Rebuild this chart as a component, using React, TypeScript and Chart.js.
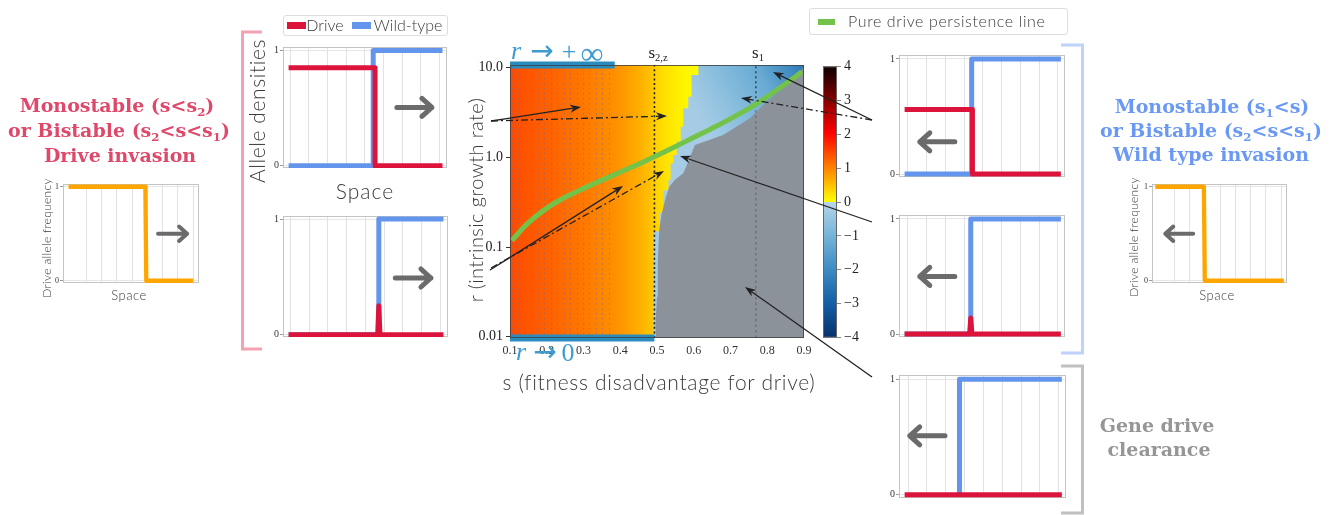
import React, { useEffect, useRef } from 'react';
import { Chart, registerables } from 'chart.js';
Chart.register(...registerables);

// ================= DATA: central map =================
const S_RANGE = [0.1, 0.9];
const R_RANGE = [0.0097, 10.7];
const sTickValues = [0.1, 0.2, 0.3, 0.4, 0.5, 0.6, 0.7, 0.8, 0.9];
const sTickLabels = ['0.1', '0.2', '0.3', '0.4', '0.5', '0.6', '0.7', '0.8', '0.9'];
const rTickValues = [0.01, 0.1, 1, 10];
const rTickLabels = ['0.01', '0.1', '1.0', '10.0'];

// positive wave speed (drive invasion), read per s column
const posSpeedS = [0.10, 0.15, 0.20, 0.25, 0.30, 0.35, 0.40, 0.45, 0.48, 0.50, 0.52, 0.55, 0.58, 0.61];
const posSpeedV = [1.45, 1.35, 1.27, 1.18, 1.08, 0.98, 0.85, 0.65, 0.50, 0.35, 0.25, 0.15, 0.07, 0.02];

// upper edge of the negative-speed (wild-type invasion) region, stepped
const negTopS = [0.490, 0.508, 0.517, 0.531, 0.537, 0.5445, 0.5535, 0.5645, 0.5716, 0.585, 0.594, 0.6125, 0.9];
const negTopR = [0.15, 0.24, 0.43, 0.56, 0.86, 1.06, 1.5, 2.2, 3.52, 4.75, 8.3, 10.7, 10.7];
// negative speed read along the light -> dark blue direction
const negGradS = [0.62, 0.9];
const negGradR = [2.5, 10.7];
const negGradPos = [0, 0.25, 0.64, 1];
const negGradV = [-0.25, -0.6, -1.25, -2.4];

// drive clearance (extinction) region boundary
const extinctS = [0.4946, 0.4965, 0.500, 0.502, 0.506, 0.513, 0.5245, 0.5336, 0.548, 0.5716, 0.59, 0.603, 0.64, 0.68, 0.753, 0.798, 0.844, 0.889, 0.9];
const extinctR = [0.0097, 0.0154, 0.028, 0.066, 0.155, 0.238, 0.365, 0.47, 0.56, 0.665, 1.0, 1.37, 1.55, 1.78, 2.73, 4.17, 5.89, 8.66, 10.7];

// pure drive persistence line
const persistS = [0.1046, 0.1454, 0.1907, 0.236, 0.2814, 0.3268, 0.3721, 0.4175, 0.4628, 0.508, 0.5535, 0.599, 0.644, 0.6895, 0.735, 0.780, 0.8256, 0.871, 0.894];
const persistR = [0.118, 0.179, 0.255, 0.335, 0.415, 0.505, 0.61, 0.736, 0.889, 1.09, 1.34, 1.66, 2.05, 2.55, 3.23, 4.18, 5.63, 7.62, 9.02];

const s2z = 0.493;
const s1 = 0.769;
const s1SplitR = 4.0;
const limitInfS = [0.1, 0.385];
const limitZeroS = [0.1, 0.493];
const hatchS = [0.1, 0.385];

// ================= DATA: colorbar =================
const cbarNegV = [-4, -3, -2, -1, 0];
const cbarNegC = ['#08306b', '#125ea6', '#3b8bc3', '#75b4d8', '#b6d4e9'];
const cbarPosV = [0, 1, 2.04, 4];
const cbarPosC = ['#ffff00', '#ff8200', '#ff0000', '#0b0000'];
const cbarTicks = [-4, -3, -2, -1, 0, 1, 2, 3, 4];

// ================= DATA: small profile panels =================
const gridA = [1, 2, 3, 4, 5, 6, 7, 8];
const gridB = [0, 1, 2, 3, 4, 5, 6, 7, 8];

const freqInvX = [-0.16, 4.87, 4.93, 8.0];
const freqInvY = [1, 1, 0, 0];
const freqWtX = [-0.24, 2.94, 3.0, 8.18];
const freqWtY = [1, 1, 0, 0];

const bDriveX = [-0.09, 4.55, 4.55, 8.17];
const bDriveY = [0.85, 0.85, 0, 0];
const bWildX = [-0.09, 4.45, 4.45, 8.17];
const bWildY = [0, 0, 1, 1];

const cDriveX = [-0.09, 4.66, 4.72, 4.78, 8.17];
const cDriveY = [0, 0, 0.25, 0, 0];
const cWildX = [-0.09, 4.72, 4.72, 8.17];
const cWildY = [0, 0, 1, 1];

const dDriveX = [-0.18, 3.44, 3.44, 8.16];
const dDriveY = [0.56, 0.56, 0, 0];
const dWildX = [-0.18, 3.40, 3.40, 8.16];
const dWildY = [0, 0, 1, 1];

const eDriveX = [-0.18, 3.29, 3.35, 3.41, 8.16];
const eDriveY = [0, 0, 0.14, 0, 0];
const eWildX = [-0.18, 3.35, 3.35, 8.16];
const eWildY = [0, 0, 1, 1];

const fDriveX = [-0.18, 8.16];
const fDriveY = [0, 0];
const fWildX = [2.73, 2.73, 8.16];
const fWildY = [0, 1, 1];

// ================= styles =================
const SANS = 'Lato, "Open Sans", "DejaVu Sans", sans-serif';
const SERIF = '"Liberation Serif", "DejaVu Serif", serif';
const BSERIF = '"DejaVu Serif", serif';
const DRIVE = '#dc143c';
const WILD = '#6495ed';
const ORANGE = '#ffa500';
const GREEN = 'rgb(115,195,75)';
const LIMIT = 'rgb(42,140,190)';
const MATHBLUE = 'rgb(62,155,208)';

function hexRgb(h: string) {
  const n = parseInt(h.slice(1), 16);
  return [(n >> 16) & 255, (n >> 8) & 255, n & 255];
}
function interp(vs: number[], cs: string[], v: number) {
  if (v <= vs[0]) return cs[0];
  for (let i = 0; i < vs.length - 1; i++) {
    if (v <= vs[i + 1]) {
      const t = (v - vs[i]) / (vs[i + 1] - vs[i] || 1);
      const a = hexRgb(cs[i]), b = hexRgb(cs[i + 1]);
      return `rgb(${a.map((c, k) => Math.round(c + (b[k] - c) * t)).join(',')})`;
    }
  }
  return cs[cs.length - 1];
}
function cmap(v: number) {
  return v >= 0 ? interp(cbarPosV, cbarPosC, v) : interp(cbarNegV, cbarNegC, v);
}
const pts = (xs: number[], ys: number[]) => xs.map((x, i) => ({ x, y: ys[i] }));

function ChartBox({ left, top, width, height, make }: any) {
  const ref = useRef<HTMLCanvasElement>(null);
  useEffect(() => {
    const chart = new Chart(ref.current as HTMLCanvasElement, make());
    return () => chart.destroy();
  }, []);
  return (
    <canvas ref={ref} width={width} height={height}
      style={{ position: 'absolute', left, top, width, height }} />
  );
}

// ---------- central map ----------
const MAP = { l: 510, t: 65, w: 294, h: 273 };
const MAP_CANVAS = { l: 440, t: 35, w: 420, h: 330 };

function makeMap() {
  const yw = MAP.l - MAP_CANVAS.l;
  const padTop = MAP.t - MAP_CANVAS.t;
  const padRight = MAP_CANVAS.w - yw - MAP.w;
  const xh = MAP_CANVAS.h - padTop - MAP.h;
  const bgPlugin = {
    id: 'mapBg',
    beforeDatasetsDraw(chart: any) {
      const { ctx, chartArea: a, scales } = chart;
      const x = scales.x;
      ctx.save();
      const g = ctx.createLinearGradient(x.getPixelForValue(S_RANGE[0]), 0, x.getPixelForValue(S_RANGE[1]), 0);
      posSpeedS.forEach((s, i) => g.addColorStop((s - S_RANGE[0]) / (S_RANGE[1] - S_RANGE[0]), cmap(posSpeedV[i])));
      ctx.fillStyle = g;
      ctx.fillRect(a.left, a.top, a.width, a.height);
      ctx.fillStyle = 'rgba(105,105,140,0.55)';
      const x0 = x.getPixelForValue(hatchS[0]);
      const x1 = x.getPixelForValue(hatchS[1]);
      for (let px = x0 + 2; px <= x1; px += 6.45) {
        for (let py = a.top + 3; py < a.bottom - 1; py += 5) ctx.fillRect(Math.round(px), py, 1, 1.4);
      }
      ctx.restore();
    },
    afterDatasetsDraw(chart: any) {
      const { ctx, chartArea: a } = chart;
      ctx.save();
      ctx.strokeStyle = 'rgba(60,60,60,0.8)';
      ctx.lineWidth = 1;
      ctx.strokeRect(a.left + 0.5, a.top + 0.5, a.width - 1, a.height - 1);
      ctx.restore();
    },
  };
  const negFill = (c: any) => {
    const ch = c.chart;
    if (!ch.chartArea) return cmap(-0.3);
    const { x, y } = ch.scales;
    const g = ch.ctx.createLinearGradient(
      x.getPixelForValue(negGradS[0]), y.getPixelForValue(negGradR[0]),
      x.getPixelForValue(negGradS[1]), y.getPixelForValue(negGradR[1]));
    negGradPos.forEach((p, i) => g.addColorStop(p, cmap(negGradV[i])));
    return g;
  };
  return {
    type: 'line',
    data: {
      datasets: [
        { data: pts(limitInfS, [R_RANGE[1], R_RANGE[1]]), borderColor: LIMIT, borderWidth: 7, borderCapStyle: 'butt', pointRadius: 0, clip: 10, order: 0 },
        { data: pts(limitZeroS, [R_RANGE[0], R_RANGE[0]]), borderColor: LIMIT, borderWidth: 7, borderCapStyle: 'butt', pointRadius: 0, clip: 10, order: 0 },
        { data: pts(persistS, persistR), borderColor: GREEN, borderWidth: 5, tension: 0.4, borderCapStyle: 'butt', pointRadius: 0, order: 1 },
        { data: pts([s2z, s2z], [R_RANGE[0], R_RANGE[1]]), borderColor: '#1e1e1e', borderWidth: 1.6, borderDash: [2, 2.6], pointRadius: 0, order: 2 },
        { data: pts([s1, s1], [s1SplitR, R_RANGE[1]]), borderColor: 'rgba(40,40,40,0.85)', borderWidth: 1.4, borderDash: [2, 3], pointRadius: 0, order: 2 },
        { data: pts([s1, s1], [R_RANGE[0], s1SplitR]), borderColor: 'rgba(95,95,95,0.75)', borderWidth: 1.2, borderDash: [2.5, 3], pointRadius: 0, order: 2 },
        { data: pts(extinctS, extinctR), borderWidth: 0, borderColor: 'rgba(0,0,0,0)', backgroundColor: 'rgb(139,146,153)', fill: 'start', pointRadius: 0, order: 3 },
        { data: pts(negTopS, negTopR), stepped: true, borderWidth: 0, borderColor: 'rgba(0,0,0,0)', backgroundColor: negFill, fill: 'start', pointRadius: 0, order: 4 },
      ],
    },
    options: {
      responsive: false, maintainAspectRatio: false, animation: false, events: [],
      layout: { padding: { top: padTop, right: padRight, bottom: 0, left: 0 } },
      plugins: { legend: { display: false }, tooltip: { enabled: false } },
      scales: {
        x: {
          type: 'linear', min: S_RANGE[0], max: S_RANGE[1],
          afterBuildTicks: (s: any) => { s.ticks = sTickValues.map((v) => ({ value: v })); },
          afterFit: (s: any) => { s.height = xh; },
          ticks: { autoSkip: false, maxRotation: 0, padding: 3, color: '#333', font: { family: SERIF, size: 12 }, callback: (_v: any, i: number) => sTickLabels[i] },
          grid: { drawOnChartArea: false, drawTicks: true, tickLength: 3, tickColor: 'rgba(0,0,0,0)' },
          border: { display: false },
        },
        y: {
          type: 'logarithmic', min: R_RANGE[0], max: R_RANGE[1],
          afterBuildTicks: (s: any) => { s.ticks = rTickValues.map((v) => ({ value: v })); },
          afterFit: (s: any) => { s.width = yw; },
          ticks: { padding: 3, color: '#222', font: { family: SERIF, size: 14 }, callback: (_v: any, i: number) => rTickLabels[i] },
          grid: { drawOnChartArea: false, drawTicks: true, tickLength: 4, tickColor: '#333' },
          border: { display: false },
        },
      },
    },
    plugins: [bgPlugin],
  };
}

// ---------- colorbar ----------
const CBAR = { l: 823, t: 65, w: 14, h: 274 };
function makeCbar() {
  const frame = {
    id: 'cbFrame',
    afterDatasetsDraw(chart: any) {
      const { ctx, chartArea: a } = chart;
      ctx.save();
      ctx.strokeStyle = '#666';
      ctx.lineWidth = 1;
      ctx.strokeRect(a.left + 0.5, a.top + 0.5, a.width - 1, a.height - 1);
      ctx.restore();
    },
  };
  const grad = (c: any) => {
    const ch = c.chart;
    if (!ch.chartArea) return '#888';
    const y = ch.scales.y;
    const g = ch.ctx.createLinearGradient(0, y.getPixelForValue(-4), 0, y.getPixelForValue(4));
    cbarNegV.forEach((v, i) => g.addColorStop(Math.min((v + 4) / 8, 0.4999), cbarNegC[i]));
    cbarPosV.forEach((v, i) => g.addColorStop(Math.max((v + 4) / 8, 0.5001), cbarPosC[i]));
    return g;
  };
  return {
    type: 'bar',
    data: { labels: [''], datasets: [{ data: [[-4, 4]], backgroundColor: grad, borderWidth: 0, barPercentage: 1, categoryPercentage: 1 }] },
    options: {
      responsive: false, maintainAspectRatio: false, animation: false, events: [],
      layout: { padding: { top: 10, bottom: 10, left: 0, right: 0 } },
      plugins: { legend: { display: false }, tooltip: { enabled: false } },
      scales: {
        x: { display: false },
        y: {
          position: 'right', min: -4, max: 4,
          afterBuildTicks: (s: any) => { s.ticks = cbarTicks.map((v) => ({ value: v })); },
          afterFit: (s: any) => { s.width = 40; },
          ticks: { padding: 3, color: '#222', font: { family: SERIF, size: 14 }, callback: (v: any) => (v < 0 ? '\u2212' + -v : String(v)) },
          grid: { drawOnChartArea: false, tickLength: 4, tickColor: '#888' },
          border: { display: false },
        },
      },
    },
    plugins: [frame],
  };
}

// ---------- small panels ----------
const YW = 22, PT = 8, PR = 6, PB = 6;
function makePanel(p: any) {
  const deco = {
    id: 'panelDeco',
    beforeDatasetsDraw(chart: any) {
      const { ctx, chartArea: a } = chart;
      ctx.save();
      ctx.strokeStyle = '#c4c4c4';
      ctx.lineWidth = 1;
      ctx.strokeRect(a.left + 0.5, a.top + 0.5, a.width - 1, a.height - 1);
      ctx.restore();
    },
    afterDatasetsDraw(chart: any) {
      const { ctx, scales } = chart;
      const ar = p.arrow;
      const x1 = scales.x.getPixelForValue(ar.tail);
      const x2 = scales.x.getPixelForValue(ar.head);
      const y = scales.y.getPixelForValue(ar.y);
      const d = Math.sign(x2 - x1);
      ctx.save();
      ctx.strokeStyle = '#6b6b6b';
      ctx.lineWidth = ar.lw;
      ctx.lineCap = 'round';
      ctx.lineJoin = 'round';
      ctx.beginPath();
      ctx.moveTo(x1, y);
      ctx.lineTo(x2, y);
      ctx.moveTo(x2 - d * ar.hs, y - ar.hs * 0.9);
      ctx.lineTo(x2, y);
      ctx.lineTo(x2 - d * ar.hs, y + ar.hs * 0.9);
      ctx.stroke();
      ctx.restore();
    },
  };
  return {
    type: 'line',
    data: {
      datasets: p.lines.map((l: any, i: number) => ({
        data: pts(l.xs, l.ys), borderColor: l.color, borderWidth: l.w, pointRadius: 0, tension: 0,
        borderJoinStyle: 'round', borderCapStyle: 'butt', fill: false, order: i,
      })),
    },
    options: {
      responsive: false, maintainAspectRatio: false, animation: false, events: [],
      layout: { padding: { top: PT, right: PR, bottom: PB, left: 0 } },
      plugins: { legend: { display: false }, tooltip: { enabled: false } },
      scales: {
        x: {
          type: 'linear', min: p.xr[0], max: p.xr[1],
          afterBuildTicks: (s: any) => { s.ticks = p.grid.map((v: number) => ({ value: v })); },
          afterFit: (s: any) => { s.height = 0; },
          ticks: { display: false },
          grid: { color: '#e2e2e2', drawTicks: false },
          border: { display: false },
        },
        y: {
          type: 'linear', min: p.yr[0], max: p.yr[1],
          afterBuildTicks: (s: any) => { s.ticks = [0, 1].map((v) => ({ value: v })); },
          afterFit: (s: any) => { s.width = YW; },
          ticks: { padding: 1, color: '#333', font: { family: SERIF, size: p.fs } },
          grid: { color: '#e6e6e6', tickColor: '#9a9a9a', tickLength: 3 },
          border: { display: false },
        },
      },
    },
    plugins: [deco],
  };
}

const panels: any[] = [
  { box: { l: 63, t: 184, w: 136, h: 99 }, xr: [-0.52, 8.38], yr: [-0.024, 1.029], grid: gridA, fs: 8,
    lines: [{ xs: freqInvX, ys: freqInvY, color: ORANGE, w: 4.3 }],
    arrow: { tail: 5.7, head: 7.6, y: 0.5, lw: 4, hs: 8 } },
  { box: { l: 1152, t: 184, w: 135, h: 99 }, xr: [-0.46, 8.39], yr: [-0.024, 1.029], grid: gridA, fs: 8,
    lines: [{ xs: freqWtX, ys: freqWtY, color: ORANGE, w: 4.3 }],
    arrow: { tail: 2.24, head: 0.41, y: 0.5, lw: 4, hs: 8 } },
  { box: { l: 283, t: 47, w: 164, h: 122 }, xr: [-0.39, 8.41], yr: [-0.02, 1.03], grid: gridB, fs: 10,
    lines: [{ xs: bDriveX, ys: bDriveY, color: DRIVE, w: 5 }, { xs: bWildX, ys: bWildY, color: WILD, w: 5 }],
    arrow: { tail: 5.72, head: 7.6, y: 0.506, lw: 5, hs: 10 } },
  { box: { l: 283, t: 216, w: 165, h: 122 }, xr: [-0.39, 8.41], yr: [-0.02, 1.026], grid: gridB, fs: 10,
    lines: [{ xs: cDriveX, ys: cDriveY, color: DRIVE, w: 5 }, { xs: cWildX, ys: cWildY, color: WILD, w: 5 }],
    arrow: { tail: 5.6, head: 7.5, y: 0.49, lw: 5, hs: 10 } },
  { box: { l: 899, t: 55, w: 166, h: 123 }, xr: [-0.48, 8.38], yr: [-0.026, 1.034], grid: gridB, fs: 10,
    lines: [{ xs: dDriveX, ys: dDriveY, color: DRIVE, w: 5 }, { xs: dWildX, ys: dWildY, color: WILD, w: 5 }],
    arrow: { tail: 2.5, head: 0.63, y: 0.28, lw: 5, hs: 10 } },
  { box: { l: 899, t: 215, w: 166, h: 123 }, xr: [-0.48, 8.38], yr: [-0.026, 1.034], grid: gridB, fs: 10,
    lines: [{ xs: eDriveX, ys: eDriveY, color: DRIVE, w: 5 }, { xs: eWildX, ys: eWildY, color: WILD, w: 5 }],
    arrow: { tail: 2.5, head: 0.63, y: 0.5, lw: 5, hs: 10 } },
  { box: { l: 899, t: 375, w: 167, h: 124 }, xr: [-0.48, 8.38], yr: [-0.028, 1.037], grid: gridB, fs: 10,
    lines: [{ xs: fDriveX, ys: fDriveY, color: DRIVE, w: 5 }, { xs: fWildX, ys: fWildY, color: WILD, w: 5 }],
    arrow: { tail: 1.96, head: 0.09, y: 0.51, lw: 5, hs: 10 } },
];

// ---------- overlay arrows (annotations) ----------
const pointers = [
  { x1: 491, y1: 121, x2: 581, y2: 107, dash: false },
  { x1: 491, y1: 121, x2: 667, y2: 116, dash: true },
  { x1: 490, y1: 270, x2: 623, y2: 186, dash: false },
  { x1: 491, y1: 268, x2: 664, y2: 171, dash: true },
  { x1: 872, y1: 120, x2: 773, y2: 72, dash: false },
  { x1: 872, y1: 120, x2: 741, y2: 98, dash: true },
  { x1: 872, y1: 222, x2: 680, y2: 156, dash: false },
  { x1: 872, y1: 377, x2: 745, y2: 287, dash: false },
];

function Pointer({ x1, y1, x2, y2, dash }: any) {
  const dx = x2 - x1, dy = y2 - y1;
  const L = Math.hypot(dx, dy);
  const ux = dx / L, uy = dy / L;
  const len = 11, hw = 4;
  const bx = x2 - ux * len, by = y2 - uy * len;
  const nx = x2 - ux * len * 0.7, ny = y2 - uy * len * 0.7;
  const p = `${x2},${y2} ${bx - uy * hw},${by + ux * hw} ${nx},${ny} ${bx + uy * hw},${by - ux * hw}`;
  return (
    <g>
      <line x1={x1} y1={y1} x2={nx} y2={ny} stroke="#222" strokeWidth={1.3} strokeDasharray={dash ? '7 3 2 3' : undefined} />
      <polygon points={p} fill="#222" />
    </g>
  );
}

function Txt({ x, y, rot, left, style, children }: any) {
  return (
    <div style={{
      position: 'absolute', left: x, top: y, whiteSpace: 'nowrap', lineHeight: 1,
      transform: `translate(${left ? '0' : '-50%'},-50%)${rot ? ' rotate(-90deg)' : ''}`, ...style,
    }}>{children}</div>
  );
}

const Sub = ({ children }: any) => (
  <span style={{ fontSize: '0.62em', position: 'relative', top: '0.3em' }}>{children}</span>
);

const headLeft = { fontFamily: BSERIF, fontWeight: 'bold', fontSize: 19, color: 'rgb(224,72,106)' };
const headRight = { ...headLeft, color: 'rgb(106,152,245)' };
const headGray = { ...headLeft, color: 'rgb(150,150,150)' };
const lab = { fontFamily: SANS, fontWeight: 300, color: '#3a3a3a' };
const math = { fontFamily: SERIF, color: MATHBLUE, fontSize: 26 };
const arrowGlyph = { fontFamily: '"DejaVu Sans", sans-serif', color: MATHBLUE, fontSize: 28 };

export default function App() {
  return (
    <div style={{ position: 'absolute', left: 0, top: 0, width: 1342, height: 515, background: '#fff', overflow: 'hidden' }}>
      <ChartBox left={MAP_CANVAS.l} top={MAP_CANVAS.t} width={MAP_CANVAS.w} height={MAP_CANVAS.h} make={makeMap} />
      <ChartBox left={CBAR.l} top={CBAR.t - 10} width={CBAR.w + 40} height={CBAR.h + 20} make={makeCbar} />
      {panels.map((p, i) => (
        <ChartBox key={i} left={p.box.l - YW} top={p.box.t - PT} width={p.box.w + YW + PR} height={p.box.h + PT + PB} make={() => makePanel(p)} />
      ))}

      <svg width={1342} height={515} style={{ position: 'absolute', left: 0, top: 0, pointerEvents: 'none' }}>
        <polyline points="262,32 242.5,32 242.5,349 262,349" fill="none" stroke="rgb(243,162,177)" strokeWidth={3} />
        <polyline points="1061,45 1082.5,45 1082.5,353 1061,353" fill="none" stroke="rgb(190,210,250)" strokeWidth={3} />
        <polyline points="1061,366 1082.5,366 1082.5,513 1061,513" fill="none" stroke="rgb(192,192,192)" strokeWidth={3} />
        {pointers.map((a, i) => <Pointer key={i} {...a} />)}
      </svg>

      {/* headings */}
      <Txt x={117} y={105} style={headLeft}>Monostable (s&lt;s<Sub>2</Sub>)</Txt>
      <Txt x={119} y={130} style={headLeft}>or Bistable (s<Sub>2</Sub>&lt;s&lt;s<Sub>1</Sub>)</Txt>
      <Txt x={120} y={155} style={headLeft}>Drive invasion</Txt>
      <Txt x={1212} y={106} style={headRight}>Monostable (s<Sub>1</Sub>&lt;s)</Txt>
      <Txt x={1211} y={130} style={headRight}>or Bistable (s<Sub>2</Sub>&lt;s&lt;s<Sub>1</Sub>)</Txt>
      <Txt x={1211} y={154} style={headRight}>Wild type invasion</Txt>
      <Txt x={1157} y={425} style={headGray}>Gene drive</Txt>
      <Txt x={1159} y={449} style={headGray}>clearance</Txt>

      {/* small panel labels */}
      <Txt x={47} y={238} rot style={{ ...lab, fontSize: 12, letterSpacing: 0.3 }}>Drive allele frequency</Txt>
      <Txt x={129} y={295} style={{ ...lab, fontSize: 13, letterSpacing: 0.5 }}>Space</Txt>
      <Txt x={1134} y={237} rot style={{ ...lab, fontSize: 12, letterSpacing: 0.3 }}>Drive allele frequency</Txt>
      <Txt x={1217} y={295} style={{ ...lab, fontSize: 13, letterSpacing: 0.5 }}>Space</Txt>
      <Txt x={256} y={111} rot style={{ ...lab, fontSize: 21, letterSpacing: 0.6 }}>Allele densities</Txt>
      <Txt x={365} y={190} style={{ ...lab, fontSize: 21, letterSpacing: 1 }}>Space</Txt>

      {/* legend drive / wild-type */}
      <div style={{ position: 'absolute', left: 283, top: 15, width: 163, height: 19, border: '1px solid #ddd', borderRadius: 3, background: '#fff' }} />
      <div style={{ position: 'absolute', left: 287, top: 22, width: 19, height: 6.5, background: DRIVE }} />
      <Txt x={325} y={25} style={{ ...lab, fontSize: 16 }}>Drive</Txt>
      <div style={{ position: 'absolute', left: 352, top: 22, width: 19, height: 6.5, background: WILD }} />
      <Txt x={408} y={25} style={{ ...lab, fontSize: 16 }}>Wild-type</Txt>

      {/* legend persistence line */}
      <div style={{ position: 'absolute', left: 809, top: 8, width: 257, height: 25, border: '1px solid #ddd', borderRadius: 3, background: '#fff' }} />
      <div style={{ position: 'absolute', left: 818, top: 19, width: 17, height: 6, background: GREEN }} />
      <Txt x={848} y={21} left style={{ ...lab, fontSize: 16, letterSpacing: 0.6 }}>Pure drive persistence line</Txt>

      {/* map labels */}
      <Txt x={475} y={200} rot style={{ ...lab, fontSize: 20, letterSpacing: 0.4 }}>r (intrinsic growth rate)</Txt>
      <Txt x={659} y={381} style={{ ...lab, fontSize: 21, letterSpacing: 0.7 }}>s (fitness disadvantage for drive)</Txt>
      <Txt x={658} y={52} style={{ fontFamily: SERIF, fontSize: 17, color: '#222' }}>s<Sub>2,z</Sub></Txt>
      <Txt x={758} y={52} style={{ fontFamily: SERIF, fontSize: 17, color: '#222' }}>s<Sub>1</Sub></Txt>

      <Txt x={516} y={51} style={{ ...math, fontStyle: 'italic' }}>r</Txt>
      <Txt x={542} y={51} style={arrowGlyph}>→</Txt>
      <Txt x={569} y={52} style={math}>+</Txt>
      <Txt x={592} y={53} style={{ ...math, fontSize: 32 }}>∞</Txt>
      <Txt x={521} y={352} style={{ ...math, fontStyle: 'italic' }}>r</Txt>
      <Txt x={545} y={352} style={arrowGlyph}>→</Txt>
      <Txt x={568} y={353} style={math}>0</Txt>
    </div>
  );
}
